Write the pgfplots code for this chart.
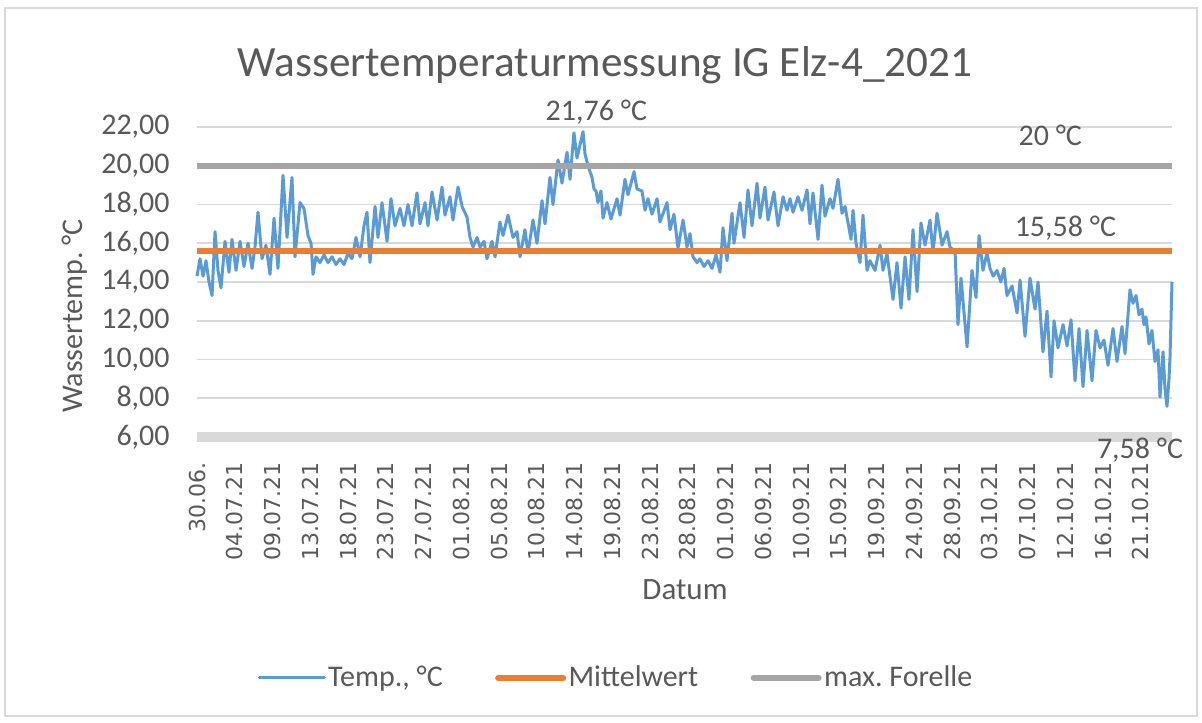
\documentclass[border=0pt]{standalone}
\usepackage{pgfplots}
\pgfplotsset{compat=1.18}
\usepackage{fontspec}
\setmainfont{Carlito}
\newfontfamily\dejavu{DejaVu Sans}
\newcommand\xt[1]{{\dejavu\fontsize{11}{13}\selectfont #1}}
\definecolor{cblue}{HTML}{5B9BD5}
\definecolor{corange}{HTML}{ED7D31}
\definecolor{cgray}{HTML}{A5A5A5}
\definecolor{cgrid}{HTML}{D9D9D9}
\definecolor{ctxt}{HTML}{595959}
\frenchspacing
\begin{document}
\begin{tikzpicture}
\path[use as bounding box] (0pt,0pt) rectangle (601pt,-361pt);
\draw[cgrid, line width=1pt] (2.5pt,-4pt) rectangle (598.5pt,-358pt);
\node[text=ctxt, font=\fontsize{21.6}{26}\selectfont] at (302.5pt,-32.5pt) {Wassertemperaturmessung IG Elz-4\_2021};
\node[text=ctxt, font=\fontsize{15}{18}\selectfont, rotate=90] at (37.5pt,-158pt) {Wassertemp. °C};
\node[text=ctxt, font=\fontsize{15.5}{18}\selectfont] at (342.5pt,-295pt) {Datum};
\begin{axis}[
  at={(98.5pt,-218.5pt)}, anchor=south west,
  scale only axis, width=487.5pt, height=155pt,
  xmin=0, xmax=116.21, ymin=6, ymax=22,
  clip=false,
  axis line style={draw=none},
  major tick length=0pt,
  ytick={6,8,...,22},
  ymajorgrids, grid style={draw=cgrid, line width=0.8pt},
  /pgf/number format/assume math mode=true,
  yticklabel style={text=ctxt, font=\fontsize{15}{18}\selectfont, anchor=east, inner sep=0pt, xshift=-13.5pt,
    /pgf/number format/.cd, fixed, fixed zerofill, precision=2, use comma},
  xtick={0,4.5,...,112.5},
  xticklabels={\xt{30.06.},\xt{04.07.21},\xt{09.07.21},\xt{13.07.21},\xt{18.07.21},\xt{23.07.21},\xt{27.07.21},\xt{01.08.21},\xt{05.08.21},\xt{10.08.21},\xt{14.08.21},\xt{19.08.21},\xt{23.08.21},\xt{28.08.21},\xt{01.09.21},\xt{06.09.21},\xt{10.09.21},\xt{15.09.21},\xt{19.09.21},\xt{24.09.21},\xt{28.09.21},\xt{03.10.21},\xt{07.10.21},\xt{12.10.21},\xt{16.10.21},\xt{21.10.21}},
  xticklabel style={rotate=90, anchor=east, inner sep=0pt, xshift=-12.5pt, text=ctxt},
  legend columns=3,
  legend image code/.code={\draw[#1, line cap=round] (0pt,0pt) -- (32.5pt,0pt);},
  legend style={at={(0.43,-0.777)}, anchor=center, draw=none, fill=none,
    font=\fontsize{15}{18}\selectfont, text=ctxt, inner sep=0pt,
    nodes={inner sep=1.2pt, text depth=0.15em},
    /tikz/every even column/.append style={column sep=25pt}},
]
\addplot[cgrid, line width=5pt, forget plot] coordinates {(0,6) (116.21,6)};
\addplot[cblue, line width=1.5pt, line join=round] coordinates {
(0,14.3) (0.36,15.2) (0.72,14.3) (1.07,15.1) (1.43,14.0) (1.79,13.3) (2.15,16.6) (2.5,14.6) (2.86,13.7) (3.34,16.1) (3.81,14.5) (4.17,16.2) (4.65,14.6) (5.13,16.1) (5.6,14.8) (6.08,16.0) (6.56,14.7) (6.91,15.8) (7.27,17.6) (7.75,15.2) (8.22,15.9) (8.7,14.4) (9.18,17.3) (9.65,14.7) (10.25,19.5) (10.73,16.3) (11.32,19.4) (11.68,15.3) (12.28,18.1) (12.75,17.8) (13.23,16.4) (13.59,16.0) (13.83,14.4) (14.18,15.3) (14.66,15.0) (15.14,15.4) (15.61,15.0) (16.09,15.3) (16.57,14.9) (17.04,15.2) (17.52,14.9) (18.0,15.5) (18.47,15.2) (18.95,16.3)
(19.43,15.3) (19.9,16.9) (20.26,17.6) (20.62,15.0) (21.22,17.9) (21.57,16.3) (22.05,18.1) (22.65,16.1) (23.12,18.3) (23.6,16.9) (24.2,17.8) (24.67,16.9) (25.15,18.0) (25.63,16.9) (26.22,18.6) (26.58,17.0) (27.18,18.1) (27.53,16.9) (28.01,18.65) (28.61,17.2) (29.2,18.9) (29.56,17.45) (30.15,18.4) (30.51,17.2) (31.11,18.9) (31.59,17.9) (32.18,17.35) (32.54,16.3) (32.9,15.8) (33.37,16.3) (33.73,15.8) (34.21,16.1) (34.56,15.2) (35.16,16.1) (35.52,15.3) (36.11,17.1) (36.47,16.4) (37.07,17.45) (37.66,16.3) (38.14,16.6) (38.5,15.3)
(39.09,16.7) (39.45,15.5) (40.05,17.2) (40.52,16.0) (41.12,18.2) (41.48,17.0) (42.07,19.4) (42.43,18.0) (43.03,20.3) (43.5,19.1) (44.1,20.7) (44.46,19.3) (44.93,21.7) (45.29,20.4) (46.01,21.76) (46.25,20.6) (46.6,20.0) (47.08,19.4) (47.32,18.8) (47.56,18.7) (47.79,18.1) (48.15,18.7) (48.39,17.3) (48.87,18.1) (49.34,17.25) (50.06,18.3) (50.42,17.45) (51.01,19.3) (51.37,18.5) (52.09,19.7) (52.44,18.8) (53.04,18.7) (53.4,17.7) (53.75,18.3) (54.23,17.5) (54.83,18.3) (55.18,17.1) (56.02,18.1) (56.38,16.7) (56.85,17.5) (57.33,15.75) (57.93,17.2) (58.4,15.8)
(58.76,16.5) (59.12,15.3) (59.6,15.0) (59.95,15.2) (60.43,14.8) (60.91,15.1) (61.38,14.7) (61.86,15.4) (62.34,14.5) (62.69,16.8) (63.17,15.1) (63.77,17.55) (64.0,16.0) (64.72,18.1) (65.2,16.3) (65.67,18.75) (66.15,16.9) (66.75,19.1) (67.1,17.3) (67.7,18.9) (68.06,17.2) (68.77,18.65) (69.25,16.9) (69.85,18.4) (70.32,17.7) (70.68,18.3) (71.04,17.6) (71.63,18.4) (72.11,17.7) (72.71,18.75) (73.06,17.0) (73.42,18.6) (74.02,16.2) (74.49,19.0) (74.85,17.4) (75.45,18.3) (75.8,17.8) (76.4,19.3) (76.88,17.55) (77.24,17.9) (77.95,16.2) (78.19,17.7)
(78.55,16.0) (79.02,15.0) (79.38,17.45) (79.86,14.6) (80.21,15.1) (80.81,14.6) (81.41,15.9) (81.76,14.6) (82.24,15.45) (82.96,13.1) (83.43,15.0) (83.91,12.65) (84.39,15.3) (84.86,13.1) (85.34,16.7) (85.82,13.5) (86.29,17.05) (86.77,15.9) (87.37,17.2) (87.72,15.5) (88.2,17.55) (88.8,15.9) (89.39,16.6) (89.75,15.8) (90.35,15.6) (90.7,11.8) (91.06,14.2) (91.78,10.65) (92.37,14.6) (92.85,13.2) (93.21,16.4) (93.68,14.6) (94.16,15.5) (94.52,14.7) (94.9,14.3) (95.35,14.6) (95.8,14.0) (96.19,14.7) (96.54,13.3) (97.14,13.8) (97.74,12.4)
(98.1,14.1) (98.69,11.2) (99.28,14.2) (99.88,12.6) (100.24,14.0) (100.83,10.4) (101.31,12.5) (101.79,9.1) (102.15,12.0) (102.62,10.6) (103.22,11.8) (103.7,10.7) (104.17,12.05) (104.65,8.9) (105.13,11.6) (105.6,8.6) (106.08,11.5) (106.67,8.9) (107.15,11.5) (107.63,10.6) (108.1,11.0) (108.58,9.7) (109.18,11.6) (109.65,9.9) (110.25,11.7) (110.61,10.3) (111.2,13.6) (111.56,12.9) (111.92,13.3) (112.28,12.3) (112.63,12.6) (112.87,11.8) (113.11,12.2) (113.47,10.8) (113.82,11.5) (114.18,9.9) (114.54,10.5) (114.78,8.06) (115.14,10.4) (115.37,8.5) (115.61,7.58) (115.85,9.0) (115.97,10.1) (116.21,14.0)
};
\addlegendentry{Temp., °C}
\addplot[corange, line width=3pt] coordinates {(0,15.58) (116.21,15.58)};
\addlegendentry{Mittelwert}
\addplot[cgray, line width=3pt] coordinates {(0,20) (116.21,20)};
\addlegendentry{max. Forelle}
\node[text=ctxt, font=\fontsize{15}{18}\selectfont] at (axis cs:47.6,22.75) {21,76 °C};
\node[text=ctxt, font=\fontsize{15}{18}\selectfont] at (axis cs:101.7,21.59) {20 °C};
\node[text=ctxt, font=\fontsize{15}{18}\selectfont] at (axis cs:103.5,16.79) {15,58 °C};
\node[text=ctxt, font=\fontsize{15}{18}\selectfont] at (axis cs:112.4,5.33) {7,58 °C};
\end{axis}
\end{tikzpicture}
\end{document}
